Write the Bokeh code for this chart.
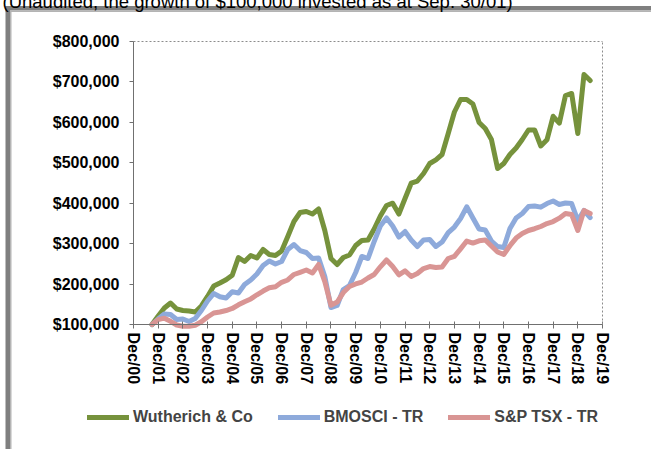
from bokeh.plotting import figure
from bokeh.models import (Range1d, FixedTicker, NumeralTickFormatter, Legend, LegendItem,
                          LinearAxis, Label, BoxAnnotation)
from bokeh.embed import file_html
from bokeh.resources import INLINE

# ---------------- data ----------------
title_text = "(Unaudited, the growth of $100,000 invested as at Sep. 30/01)"
series_names = ["Wutherich & Co", "BMOSCI - TR", "S&P TSX - TR"]
x_tick_labels = ["Dec/00", "Dec/01", "Dec/02", "Dec/03", "Dec/04", "Dec/05", "Dec/06",
                 "Dec/07", "Dec/08", "Dec/09", "Dec/10", "Dec/11", "Dec/12", "Dec/13",
                 "Dec/14", "Dec/15", "Dec/16", "Dec/17", "Dec/18", "Dec/19"]
y_ticks = [100000, 200000, 300000, 400000, 500000, 600000, 700000, 800000]

# quarter ends, Sep/01 .. Jun/19, as months after Dec/00
months = list(range(9, 223, 3))

wutherich = [100000, 121000, 140800, 153200, 138300, 134600, 133400, 130900, 145800, 169300,
             195200, 202600, 210600, 221900, 265700, 255800, 270700, 264500, 285500, 273100,
             270700, 281800, 317700, 354800, 377000, 379500, 373300, 385700, 332500, 263200,
             248400, 265700, 271900, 295400, 307800, 309000, 336200, 368400, 394300, 400000,
             373300, 411600, 449500, 454900, 473500, 498200, 507400, 520500, 572400, 625600,
             656500, 656500, 645400, 599600, 584800, 557600, 485900, 498200, 520500, 536600,
             557600, 581100, 581100, 541500, 556800, 615000, 597900, 666400, 671400, 572400,
             718400, 703500]
bmosci = [100000, 113600, 126000, 124700, 112400, 113600, 107400, 114800, 134600, 158100,
          176700, 168800, 165500, 181100, 177900, 198900, 210100, 224900, 245900, 257000,
          249600, 255800, 285500, 297800, 283000, 278100, 263200, 264500, 218700, 142000,
          147000, 186600, 196500, 228600, 268200, 263200, 305300, 343600, 363400, 343600,
          316400, 330000, 309000, 292900, 309000, 310200, 292900, 304000, 327500, 341100,
          362100, 391100, 363400, 336200, 333700, 306500, 292900, 290400, 337400, 363400,
          374500, 391800, 393100, 390300, 399200, 405400, 396800, 400500, 399200, 357200,
          382000, 364600]
sptsx = [100000, 111900, 115600, 107900, 98800, 95800, 95500, 98300, 106700, 118500,
         128400, 130900, 134600, 139600, 148700, 156400, 163300, 173500, 182800, 190800,
         193500, 204400, 210100, 223700, 229100, 234800, 227400, 248400, 206300, 147500,
         155600, 179100, 194000, 200200, 205100, 215000, 223700, 242700, 259500, 243400,
         222900, 232800, 218700, 226100, 238500, 243400, 241000, 242200, 263200, 268700,
         287200, 306500, 301300, 307000, 309000, 294100, 279300, 273100, 294900, 313700,
         325000, 332500, 336900, 342400, 349800, 354700, 363100, 374500, 372000, 332500,
         382000, 374500]

colors = ["#76923C", "#8EAADB", "#D99594"]

# ---------------- layout (pixels in the 655x453 window) ----------------
W, H = 655, 453
PL, PR, PT, PB = 137, 606, 45, 328       # chart area edges
X0, X1 = 0, 228                          # Dec/00 .. Dec/19 in months
Y0, Y1 = 100000, 800000
FONT = "Liberation Sans"
GRAY = "#7f7f7f"


def px_x(px):
    return X0 + (px - PL) / (PR - PL) * (X1 - X0)


def px_y(py):
    return Y0 + (PB - py) / (PB - PT) * (Y1 - Y0)


p = figure(width=W, height=H, output_backend="svg", toolbar_location=None,
           x_range=Range1d(px_x(0), px_x(W)), y_range=Range1d(px_y(H), px_y(0)),
           min_border=0, x_axis_location=None, y_axis_location=None,
           background_fill_color="white", border_fill_color="white")
p.margin = (-4, 0, 0, -4)
p.title.visible = False
p.grid.visible = False
p.outline_line_color = None

# main axes, pinned at Dec/00 and $100,000
xaxis = LinearAxis(fixed_location=Y0, bounds=(X0, X1),
                   ticker=FixedTicker(ticks=[12 * i for i in range(len(x_tick_labels))]),
                   major_label_overrides={12 * i: lab for i, lab in enumerate(x_tick_labels)},
                   major_label_orientation="vertical",
                   major_tick_in=3, major_tick_out=4, major_label_standoff=4)
yaxis = LinearAxis(fixed_location=X0, bounds=(Y0, Y1),
                   ticker=FixedTicker(ticks=y_ticks),
                   formatter=NumeralTickFormatter(format="$0,0"),
                   major_tick_in=0, major_tick_out=4, major_label_standoff=10)
for ax in (xaxis, yaxis):
    ax.axis_line_color = "#707070"
    ax.major_tick_line_color = "#707070"
    ax.minor_tick_line_color = None
    ax.major_label_text_font = FONT
    ax.major_label_text_font_style = "bold"
    ax.major_label_text_font_size = "16px"
    ax.major_label_text_color = "black"
p.add_layout(xaxis, "below")
p.add_layout(yaxis, "left")

# dotted top and right borders of the chart area
top_border = LinearAxis(fixed_location=Y1, bounds=(X0, X1), ticker=FixedTicker(ticks=[]),
                        major_tick_line_color=None, minor_tick_line_color=None,
                        major_label_text_font_size="0px",
                        axis_line_color="#8c8c8c", axis_line_dash="2 2")
right_border = LinearAxis(fixed_location=X1, bounds=(Y0, Y1), ticker=FixedTicker(ticks=[]),
                          major_tick_line_color=None, minor_tick_line_color=None,
                          major_label_text_font_size="0px",
                          axis_line_color="#8c8c8c", axis_line_dash="2 2")
p.add_layout(top_border, "above")
p.add_layout(right_border, "right")

# lines
renderers = []
for vals, col in zip([wutherich, bmosci, sptsx], colors):
    r = p.line(months, vals, line_color=col, line_width=5, line_join="round", line_cap="round")
    renderers.append(r)

legend = Legend(items=[LegendItem(label=n, renderers=[r]) for n, r in zip(series_names, renderers)],
                orientation="horizontal", location=(91, H - 431),
                label_text_font=FONT, label_text_font_style="bold", label_text_font_size="16px",
                glyph_width=42, glyph_height=20, label_height=20, label_standoff=4,
                spacing=25, padding=0, margin=0,
                border_line_color=None, background_fill_alpha=0)
p.add_layout(legend)

# outer grey frame (top and left edges)
p.add_layout(BoxAnnotation(left=px_x(9), right=px_x(W + 5), top=px_y(9.5), bottom=px_y(14),
                           fill_color=GRAY, fill_alpha=1, line_color=None))
p.add_layout(BoxAnnotation(left=px_x(9), right=px_x(W + 5), top=px_y(14), bottom=px_y(15.5),
                           fill_color="#b4b4b4", fill_alpha=1, line_color=None))
p.add_layout(BoxAnnotation(left=px_x(9), right=px_x(13.5), top=px_y(9.5), bottom=px_y(H + 5),
                           fill_color=GRAY, fill_alpha=1, line_color=None))
p.add_layout(BoxAnnotation(left=px_x(13.5), right=px_x(15), top=px_y(14), bottom=px_y(H + 5),
                           fill_color="#b4b4b4", fill_alpha=1, line_color=None))

# title line, cut by the window top as in the original
p.add_layout(Label(x=px_x(6), y=px_y(5), text=title_text, text_font=FONT,
                   text_font_size="18.5px", text_color="black", text_baseline="alphabetic"))

open("out.html", "w").write(file_html(p, INLINE))
